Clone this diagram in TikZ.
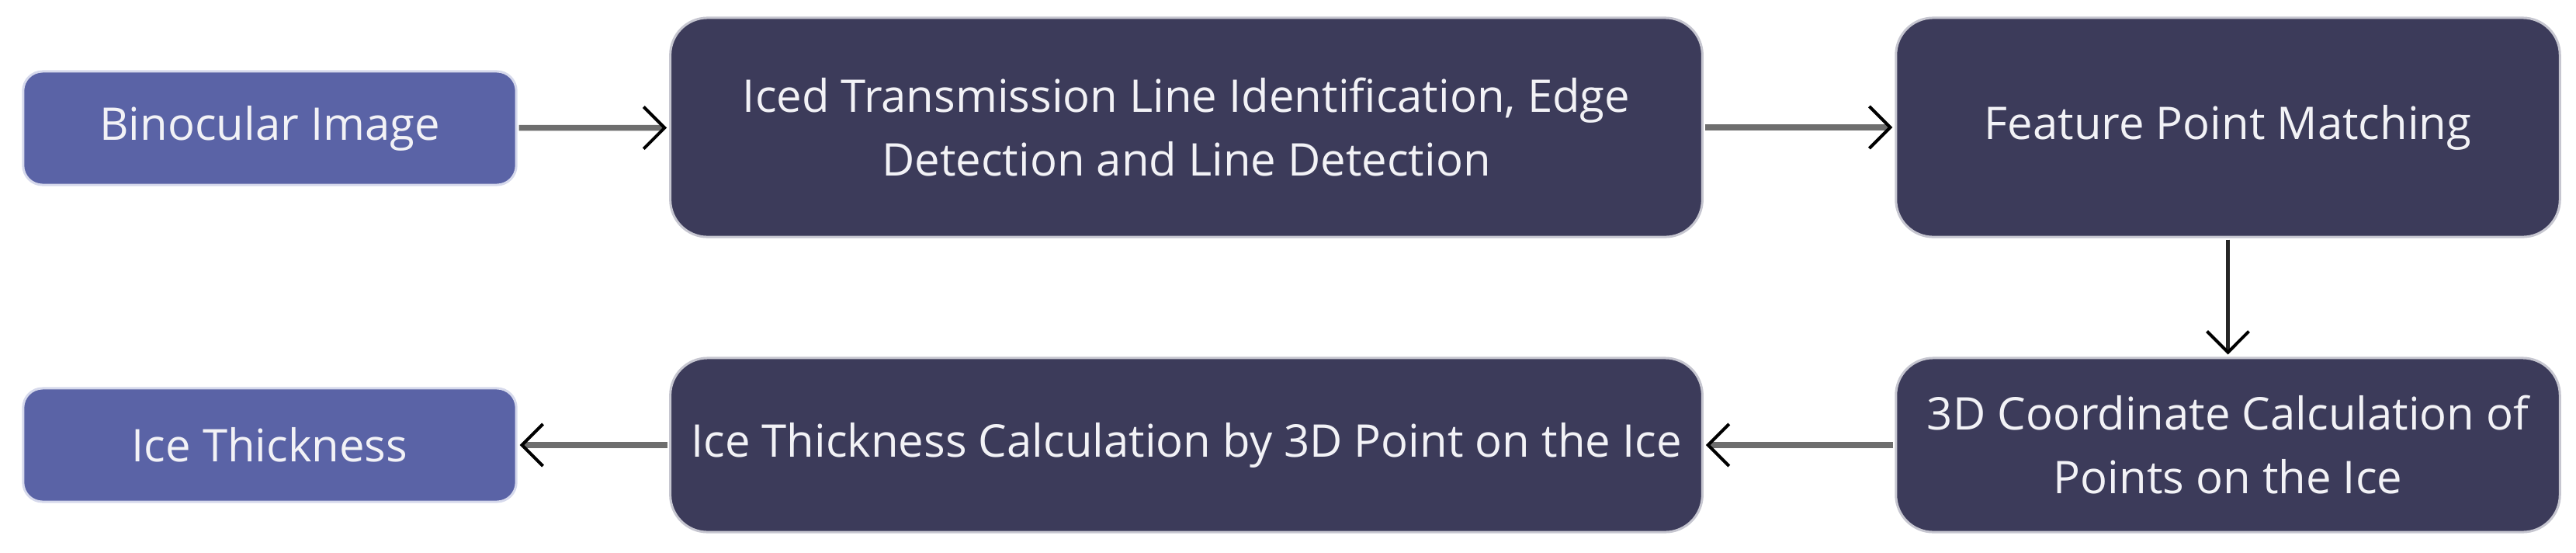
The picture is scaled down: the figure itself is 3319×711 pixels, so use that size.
\documentclass[tikz,border=0pt]{standalone}
\usepackage{fontspec}
\setmainfont{Open Sans}
\usetikzlibrary{arrows.meta}
\definecolor{lightbox}{HTML}{5A63A6}
\definecolor{lightedge}{HTML}{D6D9EC}
\definecolor{darkbox}{HTML}{3C3B5A}
\definecolor{darkedge}{HTML}{C6C6D0}
\definecolor{shaftgray}{HTML}{6E6E6E}
\definecolor{txt}{HTML}{F2F2F6}
\tikzset{
  boxtext/.style={text=txt, align=center, font=\fontsize{16.5}{23.3}\selectfont, inner sep=0pt},
  lightnode/.style={boxtext, rectangle, rounded corners=0.25cm, fill=lightbox, draw=lightedge, line width=0.03cm},
  darknode/.style={boxtext, rectangle, rounded corners=0.48cm, fill=darkbox, draw=darkedge, line width=0.03cm},
  flowarrow/.style={draw=shaftgray, line width=0.075cm, shorten >=0.03cm, shorten <=0.02cm,
    -{Straight Barb[length=0.27cm,width=0.54cm,line width=0.04cm,color=black]}},
  downarrow/.style={draw=black!85, line width=0.045cm, shorten >=0.03cm, shorten <=0.02cm,
    -{Straight Barb[length=0.27cm,width=0.54cm,line width=0.04cm,color=black]}}
}
\begin{document}
\begin{tikzpicture}[x=0.01cm,y=-0.01cm]
\useasboundingbox[fill=white] (0,0) rectangle (3319,711);
\node[lightnode, minimum width=6.35cm, minimum height=1.46cm] (bino) at (347.5,165) {Binocular Image};
\node[darknode, minimum width=13.29cm, minimum height=2.82cm] (iced) at (1528.5,164) {Iced Transmission Line Identification, Edge\\Detection and Line Detection};
\node[darknode, minimum width=8.55cm, minimum height=2.82cm] (feat) at (2870.5,164) {Feature Point Matching};
\node[darknode, minimum width=8.55cm, minimum height=2.24cm] (coord) at (2870.5,573) {3D Coordinate Calculation of\\Points on the Ice};
\node[darknode, minimum width=13.29cm, minimum height=2.24cm] (calc) at (1528.5,573) {Ice Thickness Calculation by 3D Point on the Ice};
\node[lightnode, minimum width=6.35cm, minimum height=1.46cm] (thick) at (347.5,573) {Ice Thickness};
\draw[flowarrow] (bino) -- (iced);
\draw[flowarrow] (iced) -- (feat);
\draw[downarrow] (feat) -- (coord);
\draw[flowarrow] (coord) -- (calc);
\draw[flowarrow] (calc) -- (thick);
\end{tikzpicture}
\end{document}
